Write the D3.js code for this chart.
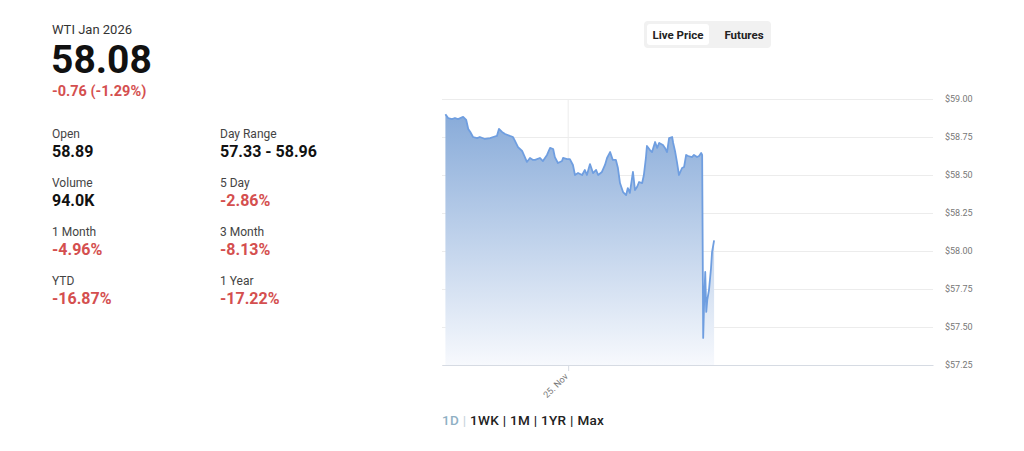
<!DOCTYPE html>
<html>
<head>
<meta charset="utf-8">
<script src="https://cdn.jsdelivr.net/npm/d3@7"></script>
<style>
body{margin:0;background:#fff;font-family:Roboto,"Noto Sans",sans-serif}
</style>
</head>
<body>
<svg id="chart"></svg>
<script>
// quote header
var contractName = "WTI Jan 2026";
var lastPrice = "58.08";
var lastChange = "-0.76 (-1.29%)";

var statLabels = ["Open","Day Range","Volume","5 Day","1 Month","3 Month","YTD","1 Year"];
var statValues = ["58.89","57.33 - 58.96","94.0K","-2.86%","-4.96%","-8.13%","-16.87%","-17.22%"];

var toggleLabels = ["Live Price","Futures"];
var rangeButtons = ["1D","1WK","1M","1YR","Max"];

// intraday session, minutes after 18:00 on 24 Nov
var minutesFromOpen = [0,8,19,28,37,52,61,67,73,81,93,101,116,131,140,151,157,166,175,189,
  198,204,213,225,233,239,248,257,263,277,286,298,307,316,321,330,342,345,357,365,
  374,380,389,401,409,415,424,433,442,448,459,468,474,483,491,500,506,512,521,530,
  535,541,550,556,562,568,577,582,588,591,600,606,615,621,627,638,644,650,656,665,
  668,674,679,685,694,700,706,712,723,729,738,744,750,753,756,759,762,765,768,773,
  779,782,788];
var prices = [58.90,58.875,58.868,58.875,58.868,58.882,58.862,58.803,58.783,58.75,58.743,58.75,58.737,58.743,58.75,58.757,58.803,58.783,58.77,58.757,
  58.75,58.724,58.684,58.658,58.618,58.586,58.612,58.599,58.599,58.612,58.592,58.632,58.678,58.671,58.618,58.579,58.592,58.612,58.605,58.605,
  58.566,58.50,58.513,58.50,58.533,58.50,58.572,58.513,58.533,58.50,58.52,58.566,58.612,58.651,58.599,58.599,58.546,58.447,58.388,58.368,
  58.414,58.382,58.52,58.401,58.421,58.454,58.447,58.50,58.612,58.691,58.664,58.651,58.717,58.678,58.711,58.697,58.678,58.651,58.743,58.75,
  58.711,58.651,58.586,58.50,58.546,58.553,58.632,58.625,58.618,58.632,58.618,58.625,58.645,58.632,57.428,57.678,57.862,57.599,57.678,57.743,
  57.888,57.993,58.07];

var yTicks = [57.25,57.5,57.75,58,58.25,58.5,58.75,59];
var xTickDays = [new Date(2025,10,25)];

var width = 1024, height = 451;
var svg = d3.select("#chart").attr("width",width).attr("height",height);

// ---- left panel
var info = svg.append("g");
info.append("text").text(contractName)
  .attr("x",52).attr("y",34).attr("font-size",13).attr("fill","#333");
info.append("text").text(lastPrice)
  .attr("x",51).attr("y",73).attr("font-size",39).attr("font-weight",700).attr("fill","#111");
info.append("text").text(lastChange)
  .attr("x",52).attr("y",96).attr("font-size",14.5).attr("font-weight",700).attr("fill","#d44f4f");

info.selectAll(".statLabel")
  .data(statLabels)
  .enter()
  .append("text")
  .attr("class","statLabel")
  .attr("x",function(d,i){ return i%2==0 ? 52 : 220; })
  .attr("y",function(d,i){ return 138 + Math.floor(i/2)*49; })
  .attr("font-size",12)
  .attr("fill","#444")
  .text(function(d){ return d; });

info.selectAll(".statValue")
  .data(statValues)
  .enter()
  .append("text")
  .attr("class","statValue")
  .attr("x",function(d,i){ return i%2==0 ? 52 : 220; })
  .attr("y",function(d,i){ return 157 + Math.floor(i/2)*49; })
  .attr("font-size",16)
  .attr("font-weight",700)
  .attr("fill",function(d){ return d.charAt(0)=="-" ? "#d44f4f" : "#111"; })
  .text(function(d){ return d; });

// ---- toggle
var toggle = svg.append("g");
toggle.append("rect").attr("x",644).attr("y",21).attr("width",127).attr("height",27)
  .attr("rx",4).attr("fill","#f1f1f1");
toggle.append("rect").attr("x",647).attr("y",24).attr("width",62).attr("height",21)
  .attr("rx",3).attr("fill","#fff");
toggle.selectAll("text.tg")
  .data(toggleLabels)
  .enter()
  .append("text")
  .attr("class","tg")
  .attr("x",function(d,i){ return i==0 ? 678 : 744; })
  .attr("y",38.5)
  .attr("text-anchor","middle")
  .attr("font-size",11.5)
  .attr("font-weight",700)
  .attr("fill","#222")
  .text(function(d){ return d; });

// ---- chart
var plot = {left:442,right:933,top:99,bottom:365};

var xScale = d3.scaleTime()
  .domain([new Date(2025,10,24,17,50), new Date(2025,10,25,17,50)])
  .range([plot.left,plot.right]);
var yScale = d3.scaleLinear()
  .domain([57.25,59])
  .range([plot.bottom,plot.top]);

var open = new Date(2025,10,24,18,0);
var series = minutesFromOpen.map(function(m,i){
  return {t:new Date(open.getTime()+m*60000), v:prices[i]};
});

var yAxis = d3.axisRight(yScale)
  .tickValues(yTicks)
  .tickSize(plot.right-plot.left)
  .tickPadding(12)
  .tickFormat(function(d){ return "$"+d3.format(".2f")(d); });

var yG = svg.append("g")
  .attr("transform","translate("+plot.left+",0)")
  .call(yAxis);
yG.select(".domain").remove();
yG.selectAll("line").attr("stroke","#ececec");
yG.selectAll("text").attr("font-size",9).attr("fill","#777").attr("font-family","Roboto,sans-serif");

// vertical grid line at the day boundary
svg.selectAll(".vgrid")
  .data(xTickDays)
  .enter()
  .append("line")
  .attr("class","vgrid")
  .attr("x1",function(d){ return xScale(d); })
  .attr("x2",function(d){ return xScale(d); })
  .attr("y1",plot.top)
  .attr("y2",plot.bottom)
  .attr("stroke","#ececec");

var defs = svg.append("defs");
var grad = defs.append("linearGradient")
  .attr("id","areaFill")
  .attr("x1",0).attr("y1",0).attr("x2",0).attr("y2",1);
grad.append("stop").attr("offset","0%").attr("stop-color","#88abd9");
grad.append("stop").attr("offset","100%").attr("stop-color","#f7f9fd");

var area = d3.area()
  .x(function(d){ return xScale(d.t); })
  .y0(yScale(57.25))
  .y1(function(d){ return yScale(d.v); });

var line = d3.line()
  .x(function(d){ return xScale(d.t); })
  .y(function(d){ return yScale(d.v); });

svg.append("path")
  .datum(series)
  .attr("d",area)
  .attr("fill","url(#areaFill)");

svg.append("path")
  .datum(series)
  .attr("d",line)
  .attr("fill","none")
  .attr("stroke","#6f9ee0")
  .attr("stroke-width",1.8)
  .attr("stroke-linejoin","round");

var xAxis = d3.axisBottom(xScale)
  .tickValues(xTickDays)
  .tickSize(6)
  .tickSizeOuter(0)
  .tickFormat(d3.timeFormat("%d. %b"));

var xG = svg.append("g")
  .attr("transform","translate(0,"+plot.bottom+")")
  .call(xAxis);
xG.select(".domain").attr("stroke","#d6dbe3");
xG.selectAll("line").attr("stroke","#d6dbe3");
xG.selectAll("text")
  .attr("font-size",9)
  .attr("fill","#777")
  .attr("font-family","Roboto,sans-serif")
  .attr("text-anchor","end")
  .attr("dy",0)
  .attr("transform","translate(0,12) rotate(-45)")
  .attr("y",0).attr("x",0);

// ---- range buttons
var btnText = svg.append("text")
  .attr("x",442).attr("y",425)
  .attr("font-size",13.5)
  .attr("font-weight",500)
  .attr("letter-spacing",0.3);
rangeButtons.forEach(function(b,i){
  btnText.append("tspan")
    .attr("fill", i==0 ? "#8fb0c4" : "#222")
    .text(b);
  if(i<rangeButtons.length-1){
    btnText.append("tspan")
      .attr("fill", i==0 ? "#c8d4dc" : "#222")
      .text(" | ");
  }
});
</script>
</body>
</html>
